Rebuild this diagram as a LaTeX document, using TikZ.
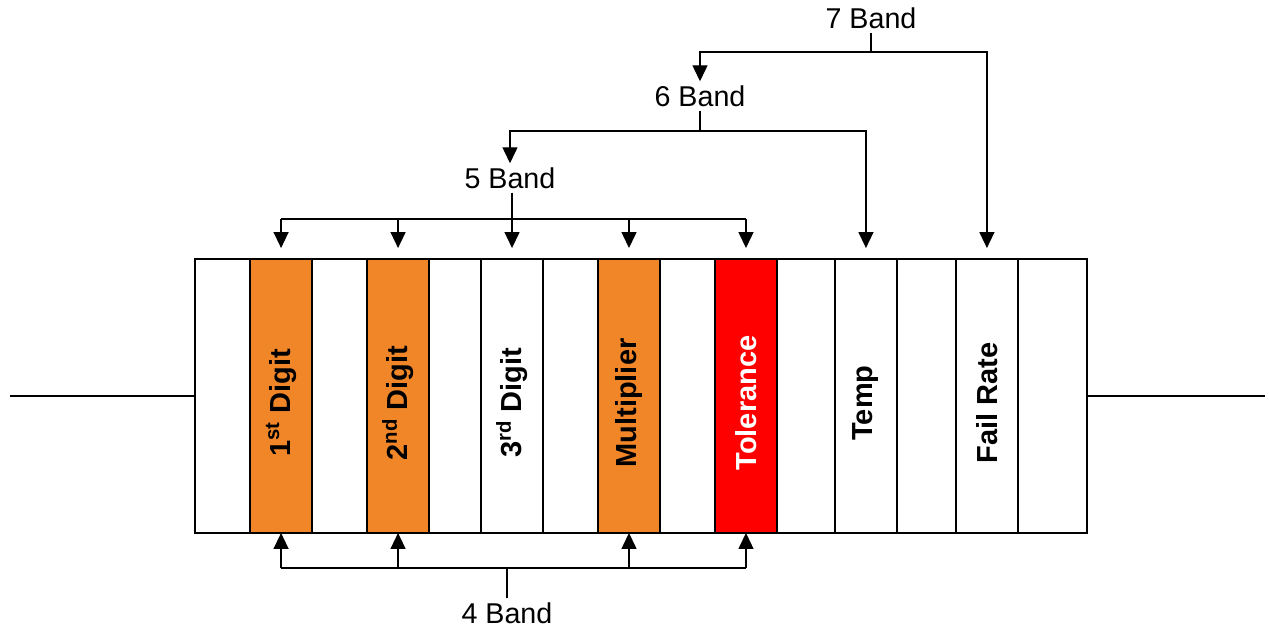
\documentclass[tikz,border=0pt]{standalone}
\usepackage{fontspec}
\setmainfont{Liberation Sans}
\usepackage{tikz}
\usetikzlibrary{arrows.meta,positioning}
\definecolor{bandorange}{RGB}{240,134,40}
\newcommand{\upright}[1]{\rotatebox{90}{#1\hspace{0.28cm}}}
\tikzset{
  band/.style={draw,fill=white,minimum width=1.24cm,minimum height=5.48cm,inner sep=0pt,outer sep=0pt,
    font=\fontsize{16.5}{18}\selectfont\bfseries},
  bandname/.style={inner sep=2pt,font=\fontsize{16.3}{18}\selectfont},
}

\begin{document}
\begin{tikzpicture}
[x=0.02cm,y=-0.02cm,>={Triangle[length=0.32cm,width=0.3cm]},line width=0.8pt]
  \useasboundingbox (0,0) rectangle (1269,628);
%
  \node[draw,fill=white,minimum width=17.84cm,minimum height=5.48cm,inner sep=0pt,outer sep=0pt] (body) at (641,396) {};
  \coordinate (leadL) at (10,396);
  \coordinate (leadR) at (1265,396);
  \draw (leadL) -- (body.west);
  \draw (body.east) -- (leadR);
%
  \node[band,fill=bandorange] (d1) [right=1.1cm of body.west] {\upright{1\textsuperscript{st} Digit}};
  \node[band,fill=bandorange] (d2) [right=1.1cm of d1] {\upright{2\textsuperscript{nd} Digit}};
  \node[band] (d3) [right=1.04cm of d2] {\upright{3\textsuperscript{rd} Digit}};
  \node[band,fill=bandorange] (mult) [right=1.1cm of d3] {\upright{Multiplier}};
  \node[band,fill=red,text=white] (tol) [right=1.1cm of mult] {\upright{Tolerance}};
  \node[band] (temp) [right=1.16cm of tol] {\upright{Temp}};
  \node[band] (fail) [right=1.18cm of temp] {\upright{Fail Rate}};
%
  \node[bandname] (b5) at (510,178) {5 Band};
  \node[bandname] (b6) at (700,96) {6 Band};
  \node[bandname] (b7) at (871,18) {7 Band};
  \node[bandname] (b4) at (507,613) {4 Band};
  \coordinate (j7) at (0,52);
  \coordinate (j6) at (0,131);
  \coordinate (j5) at (0,219);
  \coordinate (j4) at (0,568);
%
  \draw (d1.north |- j5) -- (tol.north |- j5);
  \foreach \b in {d1,d2,mult,tol}
    \draw[->,shorten >=0.22cm] (\b.north |- j5) -- (\b.north);
  \draw[->,shorten >=0.22cm] (b5.south -| d3.north) -- (d3.north);
%
  \draw[->] (b6.south) |- (b5.north |- j6) -- (b5.north);
  \draw[->,shorten >=0.22cm] (b6.south |- j6) -| (temp.north);
%
  \draw[->] (b7.south) |- (b6.north |- j7) -- (b6.north);
  \draw[->,shorten >=0.22cm] (b7.south |- j7) -| (fail.north);
%
  \draw (b4.north) -- (b4.north |- j4);
  \draw (d1.south |- j4) -- (tol.south |- j4);
  \foreach \b in {d1,d2,mult,tol}
    \draw[->] (\b.south |- j4) -- (\b.south);
\end{tikzpicture}
\end{document}
